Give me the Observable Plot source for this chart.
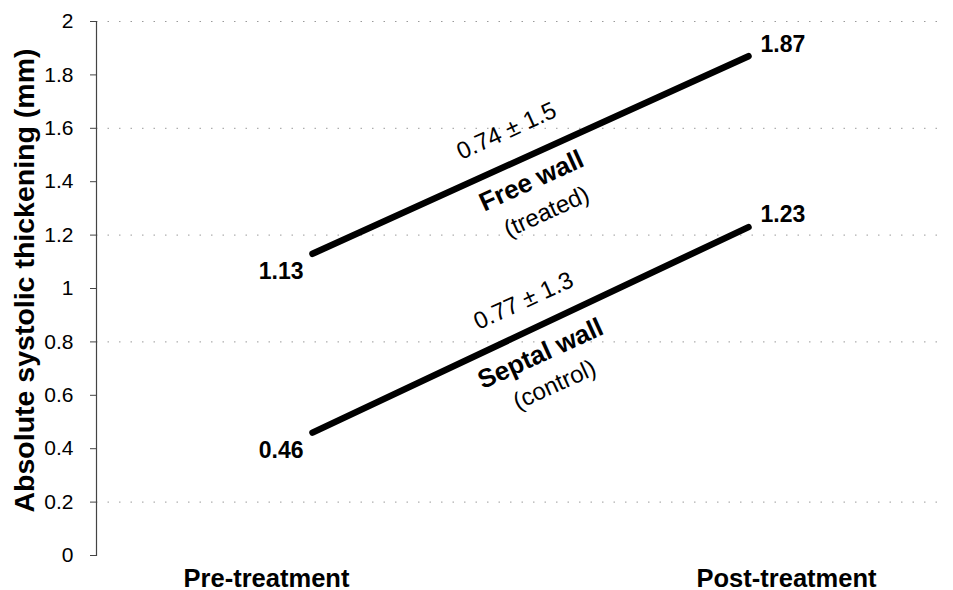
<!DOCTYPE html>
<html>
<head>
<meta charset="utf-8">
<script src="https://cdn.jsdelivr.net/npm/d3@7"></script>
<script src="https://cdn.jsdelivr.net/npm/@observablehq/plot@0.6"></script>
<style>
  html, body { margin: 0; padding: 0; background: #fff; }
  #chart svg { display: block; }
</style>
</head>
<body>
<div id="chart"></div>
<script>
// ---- data ----
const categories = ["Pre-treatment", "Post-treatment"];
const freeWall = [1.13, 1.87];     // Free wall (treated)
const septalWall = [0.46, 1.23];   // Septal wall (control)
const freeChange = "0.74 ± 1.5";
const septalChange = "0.77 ± 1.3";
const yTicks = [0, 0.2, 0.4, 0.6, 0.8, 1, 1.2, 1.4, 1.6, 1.8, 2];
const gridValues = [0.2, 0.8, 1.2, 1.6, 2];
const yTitle = "Absolute systolic thickening (mm)";

// ---- tables built from the arrays ----
const rows = [
  ...freeWall.map((v, i) => ({series: "free", i, v})),
  ...septalWall.map((v, i) => ({series: "septal", i, v}))
];
const mid = (arr) => [{i: (0 + arr.length - 1) / 2, v: d3.mean(arr)}];
const freeMid = mid(freeWall);
const septalMid = mid(septalWall);
const cats = categories.map((c, i) => ({c, i}));

const font = "'Liberation Sans', Arial, Helvetica, sans-serif";
const ROT = -24.5;

const chart = Plot.plot({
  width: 953,
  height: 590,
  marginLeft: 96,
  marginRight: 8,
  marginTop: 21,
  marginBottom: 35,
  style: {fontFamily: font, fontSize: "21px", color: "#000", background: "#fff"},
  x: {domain: [0, 1], range: [312, 748], axis: null},
  y: {domain: [0, 2], axis: null},
  marks: [
    Plot.ruleY(gridValues, {stroke: "#9a9a9a", strokeWidth: 1, strokeDasharray: "1.5,10"}),
    Plot.frame({anchor: "left", stroke: "#444", strokeWidth: 1.2}),
    Plot.axisY({
      ticks: yTicks,
      tickSize: 6,
      tickPadding: 17,
      fontSize: 21,
      stroke: "#444",
      tickFormat: d => String(+d.toFixed(1)),
      label: null
    }),
    Plot.text([yTitle], {
      frameAnchor: "left", text: d => d, rotate: -90,
      dx: -72, dy: -8, fontSize: 28.5, fontWeight: "bold", textAnchor: "middle", lineAnchor: "middle"
    }),
    // lines
    Plot.line(rows, {x: "i", y: "v", z: "series", stroke: "#000", strokeWidth: 6.5, strokeLinecap: "round"}),
    // value labels
    Plot.text(rows.filter(d => d.i === 0), {
      x: "i", y: "v", text: d => d3.format(".2f")(d.v),
      textAnchor: "end", dx: -9, dy: 18, fontSize: 23, fontWeight: "bold", lineAnchor: "middle"
    }),
    Plot.text(rows.filter(d => d.i === 1), {
      x: "i", y: "v", text: d => d3.format(".2f")(d.v),
      textAnchor: "start", dx: 12, dy: -12, fontSize: 23, fontWeight: "bold", lineAnchor: "middle"
    }),
    // annotations: free wall
    Plot.text(freeMid, {x: "i", y: "v", text: () => freeChange, rotate: ROT, dx: -24, dy: -24, fontSize: 24, lineAnchor: "middle"}),
    Plot.text(freeMid, {x: "i", y: "v", text: () => "Free wall", rotate: ROT, dx: 1, dy: 26, fontSize: 26, fontWeight: "bold", lineAnchor: "middle"}),
    Plot.text(freeMid, {x: "i", y: "v", text: () => "(treated)", rotate: ROT, dx: 16, dy: 57, fontSize: 24, lineAnchor: "middle"}),
    // annotations: septal wall
    Plot.text(septalMid, {x: "i", y: "v", text: () => septalChange, rotate: ROT, dx: -7, dy: -29, fontSize: 24, lineAnchor: "middle"}),
    Plot.text(septalMid, {x: "i", y: "v", text: () => "Septal wall", rotate: ROT, dx: 10, dy: 24, fontSize: 26, fontWeight: "bold", lineAnchor: "middle"}),
    Plot.text(septalMid, {x: "i", y: "v", text: () => "(control)", rotate: ROT, dx: 24, dy: 55, fontSize: 24, lineAnchor: "middle"}),
    // category labels
    Plot.text(cats.filter(d => d.i === 0), {x: "i", frameAnchor: "bottom", text: "c", dx: -46, dy: 31, fontSize: 25.5, fontWeight: "bold", lineAnchor: "bottom"}),
    Plot.text(cats.filter(d => d.i === 1), {x: "i", frameAnchor: "bottom", text: "c", dx: 38, dy: 31, fontSize: 25.5, fontWeight: "bold", lineAnchor: "bottom"})
  ]
});
document.getElementById("chart").appendChild(chart);
</script>
</body>
</html>
